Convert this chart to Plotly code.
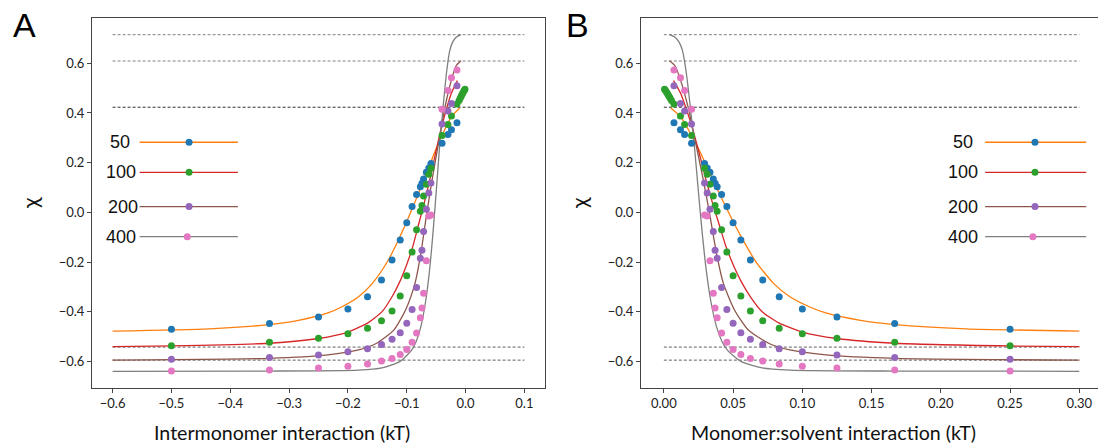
import plotly.graph_objects as go

# ---------------- data ----------------
labels = ["50", "100", "200", "400"]

# measured points (chi); x positions for panel A (intermonomer) and panel B (monomer:solvent)
pts_xA = [-0.5, -0.3333, -0.25, -0.2, -0.1667, -0.1429, -0.125, -0.1111, -0.1, -0.0909,
          -0.0833, -0.0769, -0.0741, -0.0714, -0.0667, -0.0625, -0.0588,
          -0.04, -0.03, -0.024, -0.0146]
pts_xB = [0.25, 0.1667, 0.125, 0.1, 0.0833, 0.0714, 0.0625, 0.0556, 0.05, 0.0455,
          0.0417, 0.0385, 0.037, 0.0357, 0.0333, 0.0313, 0.0294,
          0.02, 0.015, 0.012, 0.0073]

chi_50 = [-0.471, -0.448, -0.421, -0.389, -0.340, -0.272, -0.192, -0.111, -0.042, 0.023,
          0.072, 0.103, 0.117, 0.134, 0.161, 0.178, 0.197,
          0.278, 0.313, 0.332, 0.361]
chi_100 = [-0.537, -0.523, -0.507, -0.489, -0.467, -0.436, -0.397, -0.337, -0.255, -0.160,
           -0.070, 0.004, 0.027, 0.066, 0.113, 0.153, 0.177,
           0.309, 0.354, 0.388, 0.436]
chi_200 = [-0.591, -0.584, -0.574, -0.561, -0.549, -0.532, -0.511, -0.485, -0.447, -0.391,
           -0.303, -0.185, -0.153, -0.077, 0.012, 0.078, 0.118,
           0.356, 0.408, 0.438, 0.509]
chi_400 = [-0.639, -0.635, -0.627, -0.620, -0.611, -0.599, -0.588, -0.572, -0.552, -0.523,
           -0.486, -0.424, -0.385, -0.326, -0.195, -0.015, -0.011,
           0.415, 0.490, 0.542, 0.573]

# extra cluster of 100-series points near zero interaction
extra100_xA = [-0.001, -0.0024, -0.004, -0.0056, -0.0072, -0.009, -0.011]
extra100_xB = [0.0005, 0.0012, 0.002, 0.0028, 0.0036, 0.0045, 0.0055]
extra100_chi = [0.495, 0.49, 0.483, 0.476, 0.468, 0.46, 0.45]

# fitted curves
fit50_xA = [-0.01, -0.024, -0.04, -0.052, -0.066, -0.082, -0.096, -0.112, -0.132, -0.158,
            -0.182, -0.21, -0.234, -0.284, -0.334, -0.436, -0.6]
fit50_xB = [0.005, 0.012, 0.02, 0.026, 0.033, 0.041, 0.048, 0.056, 0.066, 0.079,
            0.091, 0.105, 0.117, 0.142, 0.167, 0.218, 0.3]
fit50_y = [0.42, 0.385, 0.31, 0.245, 0.16, 0.065, -0.015, -0.10, -0.195, -0.285,
           -0.34, -0.38, -0.405, -0.435, -0.452, -0.469, -0.478]

fit100_xA = [-0.014, -0.024, -0.032, -0.04, -0.05, -0.06, -0.07, -0.08, -0.09, -0.1,
             -0.112, -0.125, -0.142, -0.166, -0.2, -0.25, -0.334, -0.5, -0.6]
fit100_xB = [0.007, 0.012, 0.016, 0.02, 0.025, 0.03, 0.035, 0.04, 0.045, 0.05,
             0.056, 0.0625, 0.071, 0.083, 0.1, 0.125, 0.167, 0.25, 0.3]
fit100_y = [0.53, 0.48, 0.42, 0.35, 0.25, 0.14, 0.04, -0.05, -0.14, -0.21,
            -0.28, -0.34, -0.40, -0.445, -0.482, -0.508, -0.527, -0.538, -0.541]

fit200_xA = [-0.008, -0.016, -0.024, -0.036, -0.046, -0.056, -0.066, -0.076, -0.086, -0.102,
             -0.122, -0.152, -0.182, -0.234, -0.334, -0.6]
fit200_xB = [0.004, 0.008, 0.012, 0.018, 0.023, 0.028, 0.033, 0.038, 0.043, 0.051,
             0.061, 0.076, 0.091, 0.117, 0.167, 0.3]
fit200_y = [0.61, 0.59, 0.533, 0.412, 0.278, 0.144, -0.004, -0.165, -0.286, -0.393,
            -0.474, -0.528, -0.554, -0.574, -0.588, -0.595]

fit400_xA = [-0.008, -0.016, -0.022, -0.027, -0.032, -0.038, -0.044, -0.05, -0.056, -0.062,
             -0.068, -0.076, -0.084, -0.092, -0.112, -0.142, -0.182, -0.334, -0.6]
fit400_xB = [0.004, 0.008, 0.011, 0.0135, 0.016, 0.019, 0.022, 0.025, 0.028, 0.031,
             0.034, 0.038, 0.042, 0.046, 0.056, 0.071, 0.091, 0.167, 0.3]
fit400_y = [0.715, 0.705, 0.685, 0.65, 0.57, 0.43, 0.27, 0.08, -0.1, -0.25,
            -0.36, -0.46, -0.52, -0.556, -0.601, -0.626, -0.635, -0.639, -0.64]

# horizontal reference levels
ref_levels = [0.715, 0.609, 0.423, -0.5425, -0.595]
ref_xA = [-0.6, 0.1]
ref_xB = [0.0, 0.3]

tick_A = [-0.6, -0.5, -0.4, -0.3, -0.2, -0.1, 0.0, 0.1]
tick_B = [0.0, 0.05, 0.10, 0.15, 0.20, 0.25, 0.30]
tick_y = [-0.6, -0.4, -0.2, 0.0, 0.2, 0.4, 0.6]

# ---------------- styles ----------------
dot_colors = ["#1f77b4", "#2ca02c", "#9467bd", "#e377c2"]
line_colors = ["#ff7f0e", "#d62728", "#8c564b", "#7f7f7f"]
ref_colors = ["#808080", "#808080", "#303030", "#606060", "#606060"]
W, H = 1098, 444
TXT = "Lato"
ARIAL = "Liberation Sans"

fig = go.Figure()

panels = [
    dict(xa="x", ya="y", pts_x=pts_xA, ex_x=extra100_xA,
         fits_x=[fit50_xA, fit100_xA, fit200_xA, fit400_xA], ref_x=ref_xA),
    dict(xa="x2", ya="y2", pts_x=pts_xB, ex_x=extra100_xB,
         fits_x=[fit50_xB, fit100_xB, fit200_xB, fit400_xB], ref_x=ref_xB),
]
fits_y = [fit50_y, fit100_y, fit200_y, fit400_y]
chis = [chi_50, chi_100, chi_200, chi_400]

for p in panels:
    for lvl, c in zip(ref_levels, ref_colors):
        fig.add_trace(go.Scatter(x=p["ref_x"], y=[lvl, lvl], mode="lines",
                                 line=dict(color=c, width=1, dash="3px,2px"),
                                 xaxis=p["xa"], yaxis=p["ya"], hoverinfo="skip"))
    for fx, fy, lc in zip(p["fits_x"], fits_y, line_colors):
        fig.add_trace(go.Scatter(x=fx, y=fy, mode="lines",
                                 line=dict(color=lc, width=1.3, shape="spline", smoothing=0.6),
                                 xaxis=p["xa"], yaxis=p["ya"]))
    for ch, dc in zip(chis, dot_colors):
        fig.add_trace(go.Scatter(x=p["pts_x"], y=ch, mode="markers",
                                 marker=dict(color=dc, size=7, line=dict(width=0)),
                                 xaxis=p["xa"], yaxis=p["ya"]))
    fig.add_trace(go.Scatter(x=p["ex_x"], y=extra100_chi, mode="markers",
                             marker=dict(color=dot_colors[1], size=7, line=dict(width=0)),
                             xaxis=p["xa"], yaxis=p["ya"]))

# ---------------- in-plot legends ----------------
leg_y = [0.282, 0.161, 0.023, -0.098]
legA = dict(xa="x", ya="y", x0=-0.554, x1=-0.387, xm=[-0.470, -0.470, -0.470, -0.473],
            xt=[-0.567, -0.557, -0.554, -0.557])
legB = dict(xa="x2", ya="y2", x0=0.232, x1=0.305, xm=[0.268, 0.268, 0.268, 0.2665],
            xt=[0.2245, 0.2285, 0.2285, 0.2285])
annotations = []
for lg in (legA, legB):
    for i in range(4):
        fig.add_trace(go.Scatter(x=[lg["x0"], lg["x1"]], y=[leg_y[i], leg_y[i]], mode="lines",
                                 line=dict(color=line_colors[i], width=1.3),
                                 xaxis=lg["xa"], yaxis=lg["ya"]))
        fig.add_trace(go.Scatter(x=[lg["xm"][i]], y=[leg_y[i]], mode="markers",
                                 marker=dict(color=dot_colors[i], size=7),
                                 xaxis=lg["xa"], yaxis=lg["ya"]))
        annotations.append(dict(x=lg["xt"][i], y=leg_y[i], xref=lg["xa"], yref=lg["ya"],
                                text=labels[i], showarrow=False, xanchor="right",
                                yanchor="middle",
                                font=dict(family=ARIAL, size=18, color="#111")))

# panel letters, axis titles
annotations += [
    dict(x=24 / W, y=1 - 25 / H, xref="paper", yref="paper", text="A", showarrow=False,
         xanchor="center", yanchor="middle", font=dict(family=ARIAL, size=34, color="#000")),
    dict(x=577 / W, y=1 - 25 / H, xref="paper", yref="paper", text="B", showarrow=False,
         xanchor="center", yanchor="middle", font=dict(family=ARIAL, size=34, color="#000")),
    dict(x=29 / W, y=1 - 203 / H, xref="paper", yref="paper", text="χ", showarrow=False,
         textangle=-90, xanchor="center", yanchor="middle",
         font=dict(family=TXT, size=22, color="#111")),
    dict(x=578 / W, y=1 - 203 / H, xref="paper", yref="paper", text="χ", showarrow=False,
         textangle=-90, xanchor="center", yanchor="middle",
         font=dict(family=TXT, size=22, color="#111")),
    dict(x=282 / W, y=1 - 432 / H, xref="paper", yref="paper",
         text="Intermonomer interaction (kT)", showarrow=False,
         xanchor="center", yanchor="middle", font=dict(family=TXT, size=19.6, color="#111")),
    dict(x=833 / W, y=1 - 432 / H, xref="paper", yref="paper",
         text="Monomer:solvent interaction (kT)", showarrow=False,
         xanchor="center", yanchor="middle", font=dict(family=TXT, size=19.6, color="#111")),
]

ydom = [1 - 387.7 / H, 1 - 18.3 / H]
axis_common = dict(showgrid=False, zeroline=False, showline=True, mirror=True,
                   linecolor="#444", linewidth=1, ticks="outside", ticklen=4,
                   tickcolor="#444", tickfont=dict(family=TXT, size=13, color="#222"))

fig.update_layout(
    width=W, height=H, margin=dict(l=0, r=0, t=0, b=0),
    paper_bgcolor="white", plot_bgcolor="white", showlegend=False,
    xaxis=dict(domain=[92 / W, 545 / W], range=[-0.635, 0.135], anchor="y",
               tickvals=tick_A, tickformat=".1f", **axis_common),
    yaxis=dict(domain=ydom, range=[-0.706, 0.781], anchor="x",
               tickvals=tick_y, tickformat=".1f", **axis_common),
    xaxis2=dict(domain=[641 / W, 1.0], range=[-0.0165, 0.3135], anchor="y2",
                tickvals=tick_B, tickformat=".2f", **axis_common),
    yaxis2=dict(domain=ydom, range=[-0.706, 0.781], anchor="x2",
                tickvals=tick_y, tickformat=".1f", **axis_common),
    annotations=annotations,
)

fig.write_html("out.html")
